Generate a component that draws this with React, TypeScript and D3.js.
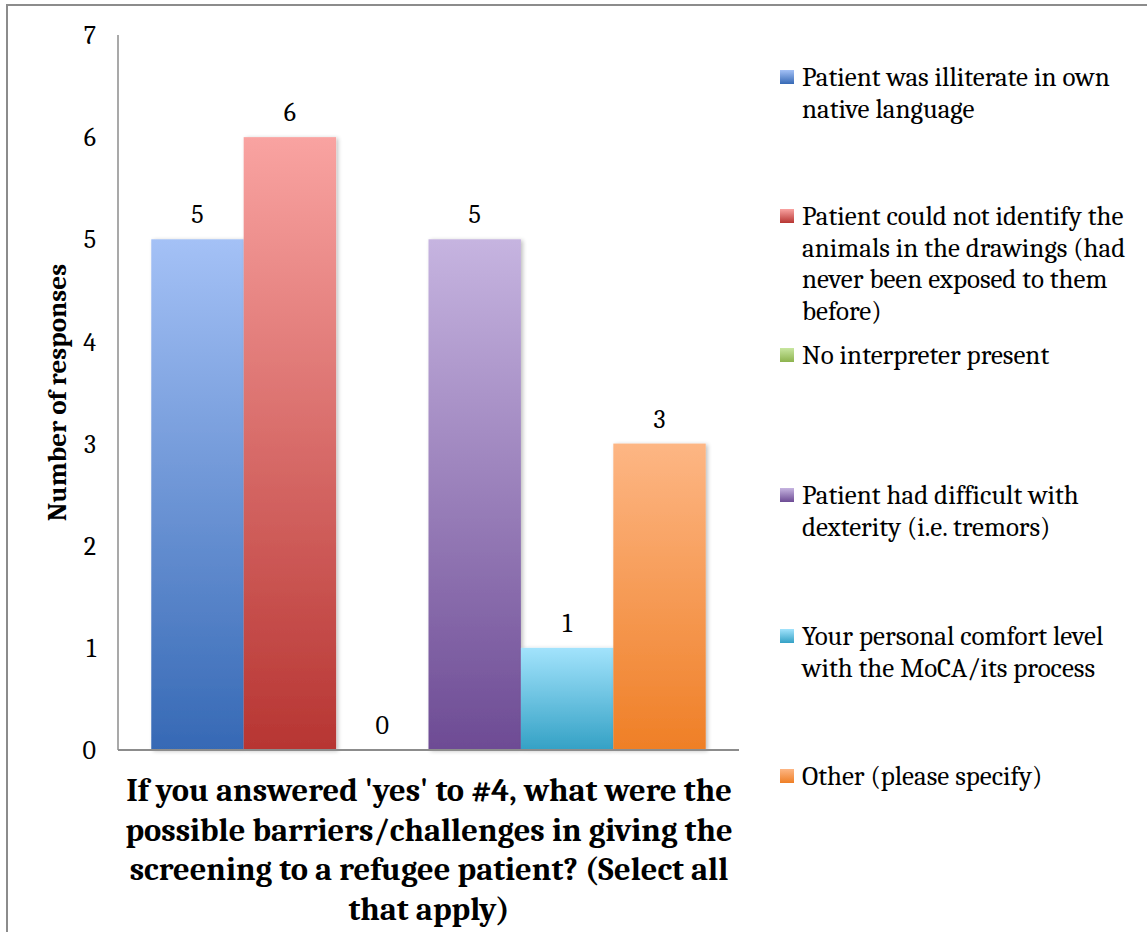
import React from "react";
import * as d3 from "d3";

const seriesNames = [
  "Patient was illiterate in own native language",
  "Patient could not identify the animals in the drawings (had never been exposed to them before)",
  "No interpreter present",
  "Patient had difficult with dexterity (i.e. tremors)",
  "Your personal comfort level with the MoCA/its process",
  "Other (please specify)",
];
const legendLines = [
  ["Patient was illiterate in own", "native language"],
  ["Patient could not identify the", "animals in the drawings (had", "never been exposed to them", "before)"],
  ["No interpreter present"],
  ["Patient had difficult with", "dexterity (i.e. tremors)"],
  ["Your personal comfort level", "with the MoCA/its process"],
  ["Other (please specify)"],
];
const values = [5, 6, 0, 5, 1, 3];
const yTicks = [0, 1, 2, 3, 4, 5, 6, 7];
const category = ["Q5"];
const colorTop = ["#a4c1f6", "#f9a3a1", "#c8e6a0", "#c6b4e0", "#a2e3fc", "#fdb684"];
const colorBottom = ["#3669b5", "#b73532", "#8db34e", "#6d4b94", "#34a1c5", "#ef7f26"];
const xTitleLines = [
  "If you answered 'yes' to #4, what were the",
  "possible barriers/challenges in giving the",
  "screening to a refugee patient? (Select all",
  "that apply)",
];
const yTitle = "Number of responses";

const W = 1147;
const H = 932;
const plotLeft = 118;
const plotRight = 739;
const plotTop = 35;
const plotBottom = 750;
const serif = "Cambria, Caladea, 'Liberation Serif', 'DejaVu Serif', serif";

export default function App() {
  const y = d3.scaleLinear().domain([0, 7]).range([plotBottom, plotTop]);
  const xOuter = d3
    .scaleBand<string>()
    .domain(category)
    .range([plotLeft, plotRight])
    .paddingInner(0)
    .paddingOuter(0.06);
  const xInner = d3
    .scaleBand<number>()
    .domain(d3.range(values.length))
    .range([0, xOuter.bandwidth()])
    .padding(0);
  const x0 = xOuter(category[0]) as number;

  const legendX = 780;
  const legendY = [77, 216, 355, 495, 636, 776];
  const lineH = 31.5;

  return (
    <svg
      width={W}
      height={H}
      style={{ position: "absolute", left: 0, top: 0, background: "#fff" }}
      fontFamily={serif}
    >
      <defs>
        {values.map((_, i) => (
          <linearGradient key={i} id={`g${i}`} x1="0" y1="0" x2="0" y2="1">
            <stop offset="0" stopColor={colorTop[i]} />
            <stop offset="1" stopColor={colorBottom[i]} />
          </linearGradient>
        ))}
        <filter id="shadow" x="-10%" y="-10%" width="130%" height="120%">
          <feGaussianBlur in="SourceAlpha" stdDeviation="2" />
          <feOffset dx="2" dy="1" result="b" />
          <feComponentTransfer>
            <feFuncA type="linear" slope="0.25" />
          </feComponentTransfer>
          <feMerge>
            <feMergeNode />
            <feMergeNode in="SourceGraphic" />
          </feMerge>
        </filter>
      </defs>
      <rect x={0} y={0} width={W} height={H} fill="#fff" />
      <rect x={7} y={5} width={W + 20} height={H + 20} fill="none" stroke="#8c8c8c" strokeWidth={2} />

      {/* axes */}
      <line x1={plotLeft} x2={plotLeft} y1={plotTop} y2={plotBottom} stroke="#8c8c8c" strokeWidth={1.5} />
      {yTicks.map((t) => (
        <text key={t} x={96} y={y(t)} dy="0.35em" textAnchor="end" fontSize={26} fill="#000">
          {t}
        </text>
      ))}

      {/* bars */}
      {values.map((v, i) => {
        const bx = x0 + (xInner(i) as number);
        const bw = xInner.bandwidth();
        return (
          <g key={i}>
            {v > 0 && (
              <rect
                x={bx}
                y={y(v)}
                width={bw}
                height={y(0) - y(v)}
                fill={`url(#g${i})`}
                filter="url(#shadow)"
              />
            )}
            <text x={bx + bw / 2} y={y(v) - 25} dy="0.35em" textAnchor="middle" fontSize={26} fill="#000">
              {v}
            </text>
          </g>
        );
      })}
      <line x1={plotLeft} x2={plotRight} y1={plotBottom} y2={plotBottom} stroke="#8c8c8c" strokeWidth={2} />

      {/* y title */}
      <text
        transform={`translate(57, ${(plotTop + plotBottom) / 2}) rotate(-90)`}
        textAnchor="middle"
        dy="0.35em"
        fontSize={27}
        fontWeight="bold"
        fill="#000"
      >
        {yTitle}
      </text>

      {/* x title */}
      {xTitleLines.map((l, i) => (
        <text
          key={i}
          x={429}
          y={790 + i * 39.5}
          dy="0.35em"
          textAnchor="middle"
          fontSize={32.5}
          fontWeight="bold"
          fill="#000"
        >
          {l}
        </text>
      ))}

      {/* legend */}
      {seriesNames.map((name, i) => (
        <g key={name}>
          <rect x={legendX} y={legendY[i] - 7} width={14} height={14} fill={`url(#g${i})`} />
          {legendLines[i].map((ln, j) => (
            <text key={j} x={802} y={legendY[i] + j * lineH} dy="0.35em" fontSize={27} fill="#000">
              {ln}
            </text>
          ))}
        </g>
      ))}
    </svg>
  );
}
